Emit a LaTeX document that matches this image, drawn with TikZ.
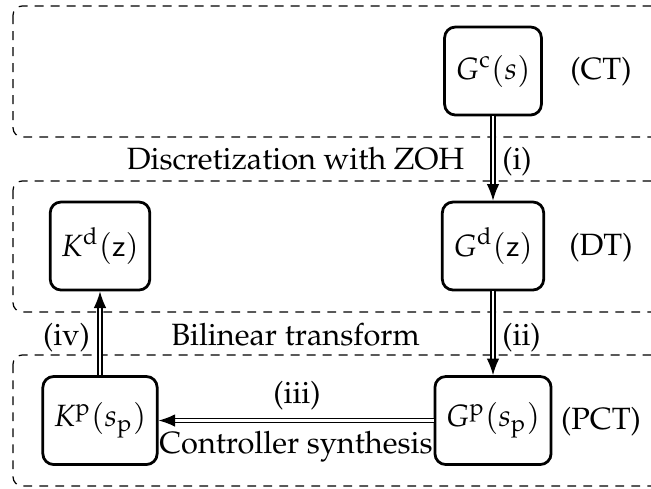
\documentclass[tikz,border=0pt]{standalone}
\usepackage[T1]{fontenc}
\usepackage{mathpazo}
\usetikzlibrary{arrows.meta}
\begin{document}
\begin{tikzpicture}[x=0.325pt,y=-0.325pt,
  blk/.style={draw, line width=0.9pt, rounded corners=3.5pt, minimum height=28.6pt, inner xsep=3.6pt, inner ysep=0pt},
  frame/.style={draw, line width=0.4pt, dash pattern=on 2.9pt off 2.3pt, rounded corners=3pt},
  dbl/.style={double, double distance=0.8pt, line width=0.45pt, -{Latex[length=5.4pt,width=4.1pt]}},
  lbl/.style={inner sep=0pt, anchor=base}]
\useasboundingbox (0,0) rectangle (651,488);
\begin{scope}
  \clip (0,0) rectangle (651,488);
  \draw[frame] (13,6) rectangle (660,137);
  \draw[frame] (13,181) rectangle (660,312);
  \draw[frame] (13,355) rectangle (660,486);
\end{scope}
\node[blk] (Gc) at (493,71) {$G^{\mathrm{c}}(s)$};
\node[blk] (Gd) at (493,246) {$G^{\mathrm{d}}(\mathsf{z})$};
\node[blk] (Kd) at (100,246) {$K^{\mathrm{d}}(\mathsf{z})$};
\node[blk] (Kp) at (100,420.5) {$K^{\mathrm{p}}(s_{\mathrm{p}})$};
\node[blk] (Gp) at (493,420.5) {$G^{\mathrm{p}}(s_{\mathrm{p}})$};
\node (ct) at (601,72) {(CT)};
\node (dt) at (601,248) {(DT)};
\node (pct) at (601,422) {(PCT)};
\draw[dbl] (Gc.south) -- (Gd.north);
\draw[dbl] (Gd.south) -- (Gp.north);
\draw[dbl] (Gp.west) -- (Kp.east);
\draw[dbl] (Kp.north) -- (Kd.south);
\node[lbl] (disc) at (295.5,169.5) {Discretization with ZOH};
\node[lbl] (li) at (517,169.5) {(i)};
\node[lbl] (bil) at (295.5,345) {Bilinear transform};
\node[lbl] (lii) at (521.5,345) {(ii)};
\node[lbl] (liv) at (66.5,345) {(iv)};
\node[lbl] (liii) at (297,403) {(iii)};
\node[lbl] (syn) at (296,453) {Controller synthesis};
\end{tikzpicture}
\end{document}
